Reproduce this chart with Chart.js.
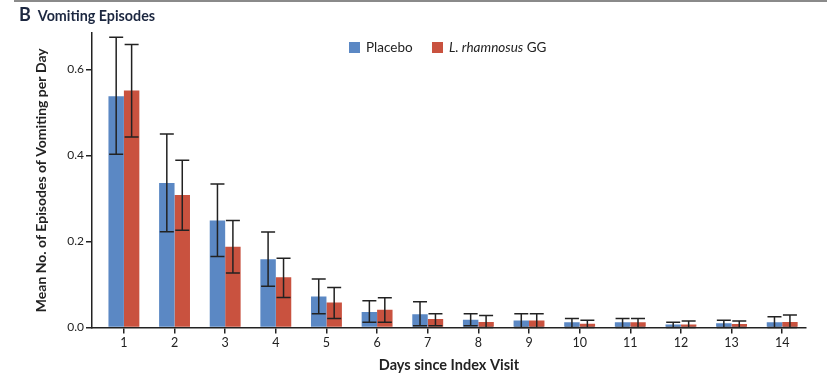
<!DOCTYPE html>
<html lang="en">
<head>
  <meta charset="UTF-8">
  <title>Vomiting Episodes</title>
  <script src="https://cdn.jsdelivr.net/npm/chart.js"></script>
  <style>
    body { margin: 0; background: #fff; font-family: Lato, "Open Sans", sans-serif; color: #222; }
    #wrap { position: relative; width: 827px; height: 375px; overflow: hidden; }
    #topline { position: absolute; left: 14px; right: 0; top: 0; height: 2px; background: #8a8a8a; }
    #title { position: absolute; left: 19px; top: 3px; font-weight: bold; white-space: nowrap; }
    #title .letter { font-size: 18px; color: #1c2740; margin-right: 7px; }
    #title .name { font-size: 14.3px; color: #1c2740; }
    #legend { position: absolute; left: 349px; top: 39px; font-size: 13.5px; white-space: nowrap; }
    #legend span.box { display: inline-block; width: 11px; height: 11px; vertical-align: -1px; margin-right: 6px; }
    #legend .item { margin-right: 16px; }
  </style>
</head>
<body>
  <div id="wrap">
    <div id="topline"></div>
    <div id="title"><span class="letter">B</span><span class="name">Vomiting Episodes</span></div>
    <canvas id="chart" width="827" height="375"></canvas>
    <div id="legend">
      <span class="item"><span class="box" style="background:#5b88c4"></span>Placebo</span>
      <span class="item"><span class="box" style="background:#c9523f"></span><i>L. rhamnosus</i> GG</span>
    </div>
  </div>

  <script>
    const days = [1, 2, 3, 4, 5, 6, 7, 8, 9, 10, 11, 12, 13, 14];
    const yTicks = [0, 0.2, 0.4, 0.6];

    // placebo: mean, upper and lower error bar
    const placebo   = [0.538, 0.336, 0.249, 0.159, 0.072, 0.036, 0.031, 0.018, 0.016, 0.012, 0.012, 0.007, 0.010, 0.012];
    const placeboHi = [0.675, 0.450, 0.334, 0.222, 0.113, 0.062, 0.060, 0.032, 0.032, 0.021, 0.021, 0.012, 0.017, 0.025];
    const placeboLo = [0.403, 0.223, 0.165, 0.096, 0.032, 0.012, 0.004, 0.004, 0.000, 0.000, 0.000, 0.000, 0.000, 0.000];

    // L. rhamnosus GG
    const lgg   = [0.551, 0.308, 0.188, 0.117, 0.058, 0.041, 0.020, 0.013, 0.016, 0.009, 0.012, 0.007, 0.008, 0.013];
    const lggHi = [0.658, 0.389, 0.249, 0.161, 0.093, 0.069, 0.032, 0.028, 0.032, 0.017, 0.021, 0.015, 0.015, 0.029];
    const lggLo = [0.443, 0.226, 0.127, 0.070, 0.021, 0.012, 0.004, 0.000, 0.000, 0.000, 0.000, 0.000, 0.000, 0.000];

    const errors = [[placeboHi, placeboLo], [lggHi, lggLo]];

    const errorBars = {
      id: 'errorBars',
      afterDatasetsDraw(chart) {
        const ctx = chart.ctx;
        const y = chart.scales.y;
        ctx.save();
        ctx.strokeStyle = '#222';
        ctx.lineWidth = 1.5;
        chart.data.datasets.forEach((ds, d) => {
          const meta = chart.getDatasetMeta(d);
          meta.data.forEach((bar, i) => {
            const top = y.getPixelForValue(errors[d][0][i]);
            const bot = y.getPixelForValue(errors[d][1][i]);
            const x = bar.x;
            ctx.beginPath();
            ctx.moveTo(x, top); ctx.lineTo(x, bot);
            ctx.moveTo(x - 7, top); ctx.lineTo(x + 7, top);
            ctx.moveTo(x - 7, bot); ctx.lineTo(x + 7, bot);
            ctx.stroke();
          });
        });
        ctx.restore();
      }
    };

    new Chart(document.getElementById('chart'), {
      type: 'bar',
      data: {
        datasets: [
          { label: 'Placebo', data: days.map((d, i) => ({ x: d, y: placebo[i] })), backgroundColor: '#5b88c4' },
          { label: 'L. rhamnosus GG', data: days.map((d, i) => ({ x: d, y: lgg[i] })), backgroundColor: '#c9523f' }
        ]
      },
      options: {
        responsive: false,
        animation: false,
        categoryPercentage: 0.61,
        barPercentage: 1.0,
        layout: { padding: { top: 33, right: 21, left: 0, bottom: 0 } },
        plugins: { legend: { display: false }, tooltip: { enabled: false } },
        scales: {
          x: {
            type: 'linear',
            offset: false,
            min: 0.37,
            max: 14.47,
            afterBuildTicks: s => { s.ticks = days.map(v => ({ value: v })); },
            afterFit: s => { s.height = 47.5; },
            grid: { offset: false, drawOnChartArea: false, drawTicks: true, tickLength: 6, color: '#222', lineWidth: 1.5 },
            border: { color: '#222', width: 1.5 },
            ticks: { color: '#222', font: { family: 'Lato', size: 12.5 }, padding: 2, maxRotation: 0 },
            title: { display: true, text: 'Days since Index Visit', color: '#222',
                     font: { family: 'Lato', size: 14.5, weight: 'bold' }, padding: { top: 0, bottom: 0.5 } }
          },
          y: {
            min: 0,
            max: 0.685,
            afterBuildTicks: s => { s.ticks = yTicks.map(v => ({ value: v })); },
            afterFit: s => { s.width = 92; },
            grid: { drawOnChartArea: false, drawTicks: true, tickLength: 6, color: '#222', lineWidth: 1.5 },
            border: { color: '#222', width: 1.5 },
            ticks: { color: '#222', font: { family: 'Lato', size: 12 }, padding: 2, callback: v => v.toFixed(1) },
            title: { display: true, text: 'Mean No. of Episodes of Vomiting per Day', color: '#222',
                     font: { family: 'Lato', size: 14, weight: 'bold' }, padding: { top: 33, bottom: 0 } }
          }
        }
      },
      plugins: [errorBars]
    });
  </script>
</body>
</html>
